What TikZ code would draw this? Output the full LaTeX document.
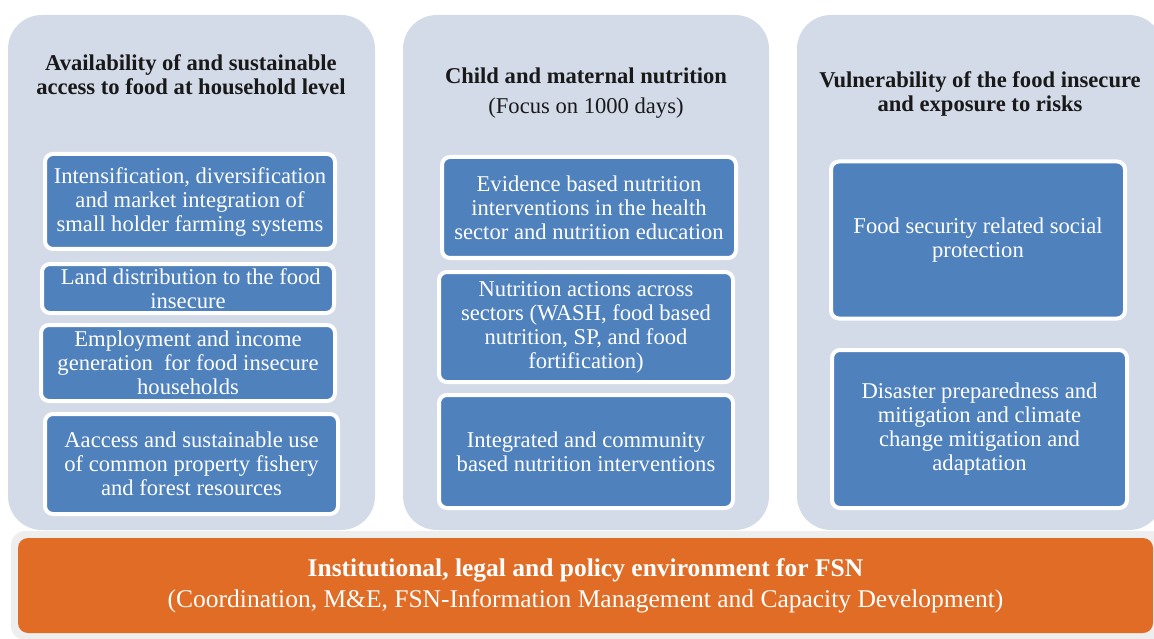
\documentclass[tikz,border=0pt]{standalone}
\usepackage{fontspec}
\setmainfont{Liberation Serif}
\definecolor{panelgrey}{HTML}{D3DAE8}
\definecolor{boxblue}{HTML}{4F81BD}
\definecolor{barorange}{HTML}{E06C25}
\definecolor{barrim}{HTML}{EEEEEF}
\tikzset{
	panel/.style = {rectangle, fill = panelgrey, rounded corners = 34pt, inner sep = 0pt},
	box/.style = {rectangle, draw = white, line width = 4pt, fill = boxblue, rounded corners = 8pt,
		text = white, align = center, inner sep = 0pt, font = \fontsize{22.6}{24}\selectfont},
	title/.style = {align = center, text = black!90, font = \fontsize{22.6}{24}\selectfont\bfseries},
	subtitle/.style = {align = center, text = black!90, font = \fontsize{22.6}{24}\selectfont},
}
\begin{document}
\begin{tikzpicture}[x=1pt,y=-1pt]
	\useasboundingbox (0,0) rectangle (1154,639);
	\clip (0,0) rectangle (1154,639);
	% three pillars
	\node (P1) at (191.5,272.5)	[panel, minimum width = 367, minimum height = 515]	{};
	\node (P2) at (586,272.5)	[panel, minimum width = 366, minimum height = 515]	{};
	\node (P3) at (980,272.5)	[panel, minimum width = 366, minimum height = 515]	{};
	\node (T1) at (191,75)	[title]	{Availability of and sustainable\\access to food at household level};
	\node (T2) at (586,76)	[title]	{Child and maternal nutrition};
	\node (S2) at (586,108)	[subtitle]	{(Focus on 1000 days)};
	\node (T3) at (980,94)	[title]	{Vulnerability of the food insecure\\and exposure to risks};
	% availability and access
	\node (A1) at (190,201.5)	[box, minimum width = 290, minimum height = 95]	{Intensification, diversification\\and market integration of\\small holder farming systems};
	\node (A2) at (188,288.5)	[box, minimum width = 292, minimum height = 49]	{\ Land distribution to the food\\insecure};
	\node (A3) at (188,363)	[box, minimum width = 294, minimum height = 76]	{Employment and income\\generation\ \ for food insecure\\households};
	\node (A4) at (191.5,464)	[box, minimum width = 293, minimum height = 100]	{Aaccess and sustainable use\\of common property fishery\\and forest resources};
	% nutrition
	\node (N1) at (589,207.5)	[box, minimum width = 294, minimum height = 101]	{Evidence based nutrition\\interventions in the health\\sector and nutrition education};
	\node (N2) at (586,327)	[box, minimum width = 294, minimum height = 110]	{Nutrition actions across\\sectors (WASH, food based\\nutrition, SP, and food\\fortification)};
	\node (N3) at (586,451.5)	[box, minimum width = 294, minimum height = 113]	{Integrated and community\\based nutrition interventions};
	% vulnerability
	\node (V1) at (978,240)	[box, minimum width = 294, minimum height = 157]	{Food security related social\\protection};
	\node (V2) at (979.5,429)	[box, minimum width = 295, minimum height = 158]	{Disaster preparedness and\\mitigation and climate\\change mitigation and\\adaptation};
	% enabling environment
	\node (E0) at (588,585.5)	[rectangle, fill = barrim, rounded corners = 14pt, minimum width = 1154, minimum height = 109]	{};
	\node (E1) at (585.5,585.5)	[rectangle, fill = barorange, rounded corners = 10pt, minimum width = 1135, minimum height = 95,
		text = white, align = center, font = \fontsize{25.5}{31}\selectfont]
		{\textbf{Institutional, legal and policy environment for FSN}\\(Coordination, M\&E, FSN-Information Management and Capacity Development)};
\end{tikzpicture}
\end{document}
